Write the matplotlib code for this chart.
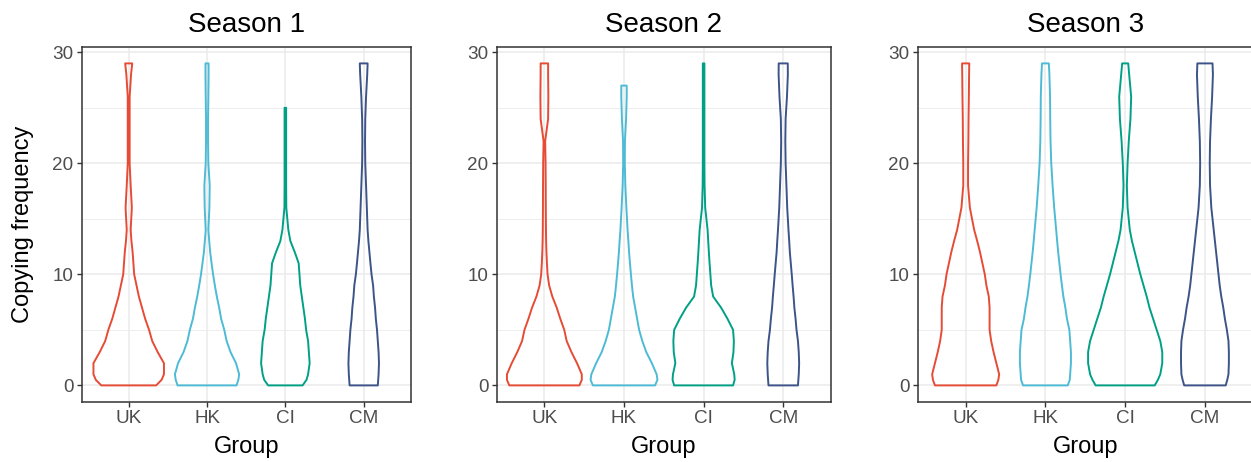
import matplotlib
matplotlib.use("Agg")
import matplotlib.pyplot as plt
import numpy as np

# groups and colours (NPG-like palette)
groups = ["UK", "HK", "CI", "CM"]
colors = ["#E64B35", "#4DBBD5", "#00A087", "#3C5488"]
seasons = ["Season 1", "Season 2", "Season 3"]

# violin outlines: y levels and half-widths (in x units)
grid = [0, 0.5, 1, 2, 3, 4, 5, 6, 7, 8, 9, 10, 11, 12, 13, 14, 16, 18, 20, 22, 24, 26, 28, 29]
grid_top25 = [0, 0.5, 1, 2, 3, 4, 5, 6, 7, 8, 9, 10, 11, 12, 13, 14, 16, 18, 20, 22, 24, 25]
grid_top27 = [0, 0.5, 1, 2, 3, 4, 5, 6, 7, 8, 9, 10, 11, 12, 13, 14, 16, 18, 20, 22, 24, 26, 27]

s1_uk = [0.35, 0.42, 0.45, 0.45, 0.37, 0.30, 0.26, 0.21, 0.17, 0.13, 0.10, 0.07, 0.06, 0.05,
         0.035, 0.025, 0.04, 0.025, 0.012, 0.012, 0.012, 0.012, 0.03, 0.045]
s1_hk = [0.376, 0.40, 0.41, 0.37, 0.30, 0.25, 0.22, 0.18, 0.155, 0.125, 0.10, 0.077, 0.058, 0.04,
         0.028, 0.017, 0.03, 0.034, 0.017, 0.013, 0.013, 0.017, 0.02, 0.02]
s1_ci = [0.22, 0.27, 0.29, 0.31, 0.30, 0.29, 0.265, 0.25, 0.23, 0.21, 0.19, 0.18, 0.17, 0.12,
         0.064, 0.038, 0.012, 0.01, 0.01, 0.01, 0.01, 0.01]
s1_cm = [0.18, 0.185, 0.19, 0.195, 0.19, 0.18, 0.17, 0.155, 0.145, 0.13, 0.12, 0.10, 0.086, 0.073,
         0.06, 0.05, 0.04, 0.03, 0.02, 0.017, 0.02, 0.03, 0.045, 0.05]

s2_uk = [0.44, 0.47, 0.47, 0.41, 0.34, 0.28, 0.25, 0.20, 0.155, 0.10, 0.06, 0.04, 0.032, 0.026,
         0.022, 0.02, 0.018, 0.017, 0.015, 0.01, 0.047, 0.05, 0.047, 0.047]
s2_hk = [0.39, 0.42, 0.41, 0.35, 0.28, 0.23, 0.19, 0.165, 0.14, 0.115, 0.10, 0.087, 0.075, 0.064,
         0.055, 0.045, 0.03, 0.017, 0.01, 0.012, 0.026, 0.034, 0.034]
s2_ci = [0.37, 0.39, 0.385, 0.355, 0.375, 0.38, 0.37, 0.30, 0.22, 0.12, 0.095, 0.085, 0.075, 0.066,
         0.058, 0.05, 0.02, 0.012, 0.01, 0.01, 0.01, 0.01, 0.01, 0.01]
s2_cm = [0.185, 0.19, 0.195, 0.2, 0.195, 0.185, 0.167, 0.155, 0.14, 0.13, 0.118, 0.107, 0.095, 0.083,
         0.075, 0.066, 0.05, 0.04, 0.03, 0.026, 0.03, 0.047, 0.058, 0.057]

s3_uk = [0.385, 0.41, 0.42, 0.385, 0.35, 0.32, 0.30, 0.30, 0.30, 0.29, 0.26, 0.24, 0.21, 0.18,
         0.145, 0.107, 0.053, 0.03, 0.03, 0.034, 0.036, 0.04, 0.043, 0.045]
s3_hk = [0.28, 0.305, 0.31, 0.32, 0.32, 0.31, 0.30, 0.27, 0.25, 0.225, 0.207, 0.19, 0.175, 0.16,
         0.147, 0.135, 0.11, 0.09, 0.073, 0.064, 0.06, 0.058, 0.05, 0.043]
s3_ci = [0.37, 0.41, 0.44, 0.465, 0.465, 0.44, 0.395, 0.35, 0.305, 0.27, 0.23, 0.19, 0.155, 0.12,
         0.085, 0.058, 0.03, 0.021, 0.03, 0.045, 0.066, 0.075, 0.05, 0.038]
s3_cm = [0.26, 0.28, 0.295, 0.30, 0.30, 0.295, 0.275, 0.25, 0.23, 0.205, 0.185, 0.17, 0.155, 0.14,
         0.125, 0.11, 0.08, 0.064, 0.06, 0.064, 0.075, 0.09, 0.10, 0.095]

panels = [
    [(grid, s1_uk), (grid, s1_hk), (grid_top25, s1_ci), (grid, s1_cm)],
    [(grid, s2_uk), (grid_top27, s2_hk), (grid, s2_ci), (grid, s2_cm)],
    [(grid, s3_uk), (grid, s3_hk), (grid, s3_ci), (grid, s3_cm)],
]

plt.rcParams["font.family"] = ["Liberation Sans", "DejaVu Sans"]

W, H = 1251, 462
fig = plt.figure(figsize=(W / 100, H / 100), dpi=100)

# panel boxes in pixels: left, right
boxes = [(81.7, 410.7), (496.6, 831.0), (917.8, 1252.8)]
top_px, bot_px = 47.3, 401.5

for i, (season, violins) in enumerate(zip(seasons, panels)):
    l, r = boxes[i]
    ax = fig.add_axes([l / W, 1 - bot_px / H, (r - l) / W, (bot_px - top_px) / H])
    ax.set_xlim(0.4, 4.6)
    ax.set_ylim(-1.45, 30.45)

    # grid like theme_bw
    ax.set_axisbelow(True)
    ax.set_yticks([0, 10, 20, 30])
    ax.set_yticks([5, 15, 25], minor=True)
    ax.set_xticks(range(1, 5))
    ax.set_xticklabels(groups)
    ax.grid(which="major", color="#EBEBEB", linewidth=1.1)
    ax.grid(which="minor", axis="y", color="#EBEBEB", linewidth=0.6)
    ax.tick_params(which="minor", length=0)
    ax.tick_params(which="major", length=3.5, width=1.0, color="#333333",
                   labelsize=13.6, labelcolor="#4D4D4D", pad=2.5)
    for sp in ax.spines.values():
        sp.set_color("#333333")
        sp.set_linewidth(1.1)

    for k, (ys, hw) in enumerate(violins):
        ys = np.array(ys, dtype=float)
        hw = np.array(hw, dtype=float)
        xs = np.concatenate([k + 1 + hw, (k + 1 - hw)[::-1]])
        yy = np.concatenate([ys, ys[::-1]])
        ax.fill(xs, yy, facecolor="none", edgecolor=colors[k], linewidth=1.4,
                joinstyle="round", zorder=3)

    cx = (l + r) / 2 / W
    fig.text(cx, 1 - 31.5 / H, season, ha="center", va="baseline", fontsize=20)
    fig.text(cx, 1 - 453 / H, "Group", ha="center", va="baseline", fontsize=17)

fig.text(23 / W, 1 - 224 / H, "Copying frequency", rotation=90, ha="center",
         va="center", fontsize=17)

fig.savefig("out.png", dpi=100)
